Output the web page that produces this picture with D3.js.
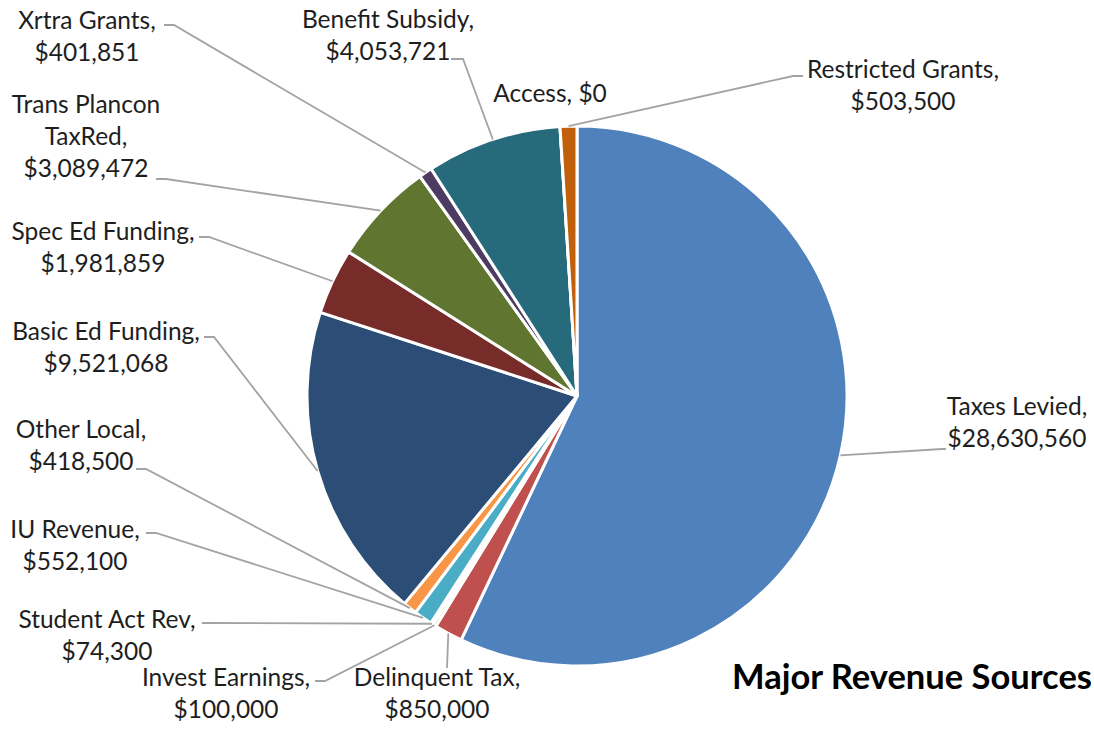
<!DOCTYPE html>
<html>
<head>
<meta charset="utf-8">
<script src="https://cdn.jsdelivr.net/npm/d3@7"></script>
<style>
  body { margin: 0; background: #fff; }
  svg { display: block; }
  text { font-family: Lato, "Noto Sans", sans-serif; fill: #1e1e1e; }
</style>
</head>
<body>
<div id="chart"></div>
<script>
// revenue sources, clockwise from 12 o'clock
const categories = ["Taxes Levied", "Delinquent Tax", "Invest Earnings", "Student Act Rev",
  "IU Revenue", "Other Local", "Basic Ed Funding", "Spec Ed Funding", "Trans Plancon\nTaxRed",
  "Xrtra Grants", "Benefit Subsidy", "Access", "Restricted Grants"];
const values = [28630560, 850000, 100000, 74300, 552100, 418500, 9521068, 1981859, 3089472,
  401851, 4053721, 0, 503500];
const colors = ["#4f81bd", "#c0504d", "#9bbb59", "#8064a2", "#4bacc6", "#f79646", "#2c4d75",
  "#772c2a", "#5f7530", "#4d3b62", "#276a7c", "#b65708", "#c0600d"];

// where each label sits and where its leader line leaves the text
const labelLayout = [
  {cx: 1017, y: 415, anchor: [946, 449], elbow: -4},
  {cx: 437, y: 686, anchor: [447, 668], elbow: 0},
  {cx: 226, y: 686, anchor: [315, 681], elbow: 10},
  {cx: 107, y: 628, anchor: [202, 623], elbow: 10},
  {cx: 75, y: 538, anchor: [146, 533], elbow: 10},
  {cx: 81, y: 438, anchor: [136, 469], elbow: 10},
  {cx: 106, y: 340, anchor: [204, 337], elbow: 10},
  {cx: 103, y: 240, anchor: [199, 237], elbow: 10},
  {cx: 86, y: 113, anchor: [156, 179], elbow: 10},
  {cx: 87, y: 29, anchor: [164, 25], elbow: 10},
  {cx: 388, y: 28, anchor: [451, 59], elbow: 12},
  {cx: 550, y: 102, anchor: null, inline: true},
  {cx: 903, y: 78, anchor: [803, 76], elbow: -10}
];

let w = 1094;
let h = 732;
let cx = 577, cy = 396, r = 270;
let lineH = 32;

let svg = d3.select("#chart").append("svg")
    .attr("width", w)
    .attr("height", h);

let fmt = d3.format("$,");
let data = categories.map((c, i) => ({name: c, value: values[i], color: colors[i], layout: labelLayout[i]}));

let pie = d3.pie().sort(null).value(d => d.value).startAngle(0).endAngle(2 * Math.PI);
let arc = d3.arc().innerRadius(0).outerRadius(r);
let arcs = pie(data);

let g = svg.append("g").attr("transform", "translate(" + cx + "," + cy + ")");

g.selectAll("path.slice")
    .data(arcs)
    .enter()
    .append("path")
    .attr("class", "slice")
    .attr("d", arc)
    .attr("fill", d => d.data.color)
    .attr("stroke", "#fff")
    .attr("stroke-width", 3)
    .attr("stroke-linejoin", "round");

// leader lines
arcs.forEach(function (d) {
    let lay = d.data.layout;
    if (!lay.anchor) return;
    let mid = (d.startAngle + d.endAngle) / 2;
    let px = cx + r * Math.sin(mid);
    let py = cy - r * Math.cos(mid);
    let pts = [lay.anchor, [lay.anchor[0] + lay.elbow, lay.anchor[1]], [px, py]];
    svg.append("path")
        .attr("d", d3.line()(pts))
        .attr("fill", "none")
        .attr("stroke", "#a3a3a3")
        .attr("stroke-width", 1.8);
});

// labels
arcs.forEach(function (d) {
    let lay = d.data.layout;
    let lines;
    if (lay.inline) {
        lines = [d.data.name + ", " + fmt(d.data.value)];
    } else {
        lines = (d.data.name + ",").split("\n");
        lines.push(fmt(d.data.value));
    }
    let t = svg.append("text")
        .attr("text-anchor", "middle")
        .attr("font-size", 24.5);
    lines.forEach(function (s, i) {
        t.append("tspan")
            .attr("x", lay.cx)
            .attr("y", lay.y + i * lineH)
            .text(s);
    });
});

svg.append("text")
    .attr("x", 732)
    .attr("y", 689)
    .attr("font-size", 34.5)
    .attr("font-weight", "bold")
    .style("fill", "#000")
    .text("Major Revenue Sources");
</script>
</body>
</html>
